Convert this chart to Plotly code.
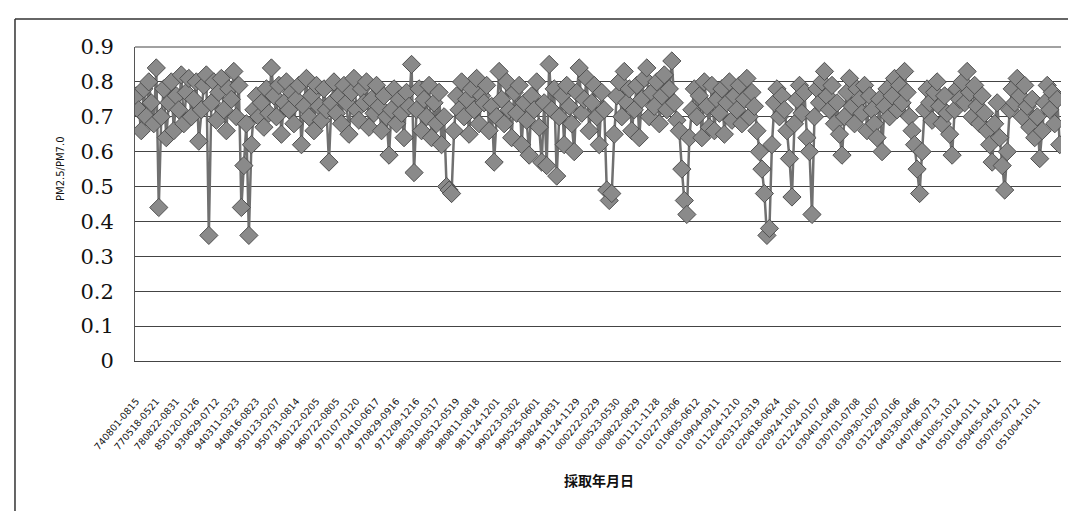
import plotly.graph_objects as go

tick_labels = [
    "740801-0815", "770518-0521", "780822-0831", "850120-0126", "930629-0712",
    "940311-0323", "940816-0823", "950123-0207", "950731-0814", "960122-0205",
    "960722-0805", "970107-0120", "970410-0617", "970829-0916", "971209-1216",
    "980310-0317", "980512-0519", "980811-0818", "981124-1201", "990223-0302",
    "990525-0601", "990824-0831", "991124-1129", "000222-0229", "000523-0530",
    "000822-0829", "001121-1128", "010227-0306", "010605-0612", "010904-0911",
    "011204-1210", "020312-0319", "020618-0624", "020924-1001", "021224-0107",
    "030401-0408", "030701-0708", "030930-1007", "031229-0106", "040330-0406",
    "040706-0713", "041005-1012", "050104-0111", "050405-0412", "050705-0712",
    "051004-1011",
]
label_every = 8

ratio = [
    0.76, 0.72, 0.66, 0.78, 0.70, 0.80, 0.74, 0.68, 0.84, 0.44,
    0.70, 0.78, 0.64, 0.74, 0.80, 0.66, 0.76, 0.72, 0.82, 0.68,
    0.77, 0.81, 0.70, 0.75, 0.80, 0.63, 0.72, 0.79, 0.82, 0.36,
    0.74, 0.80, 0.69, 0.77, 0.81, 0.72, 0.66, 0.78, 0.75, 0.83,
    0.70, 0.79, 0.44, 0.56, 0.68, 0.36, 0.62, 0.72, 0.76, 0.70,
    0.74, 0.67, 0.78, 0.71, 0.84, 0.76, 0.70, 0.79, 0.65, 0.74,
    0.80, 0.72, 0.77, 0.68, 0.75, 0.79, 0.62, 0.73, 0.81, 0.70,
    0.76, 0.66, 0.79, 0.73, 0.69, 0.78, 0.72, 0.57, 0.74, 0.80,
    0.71, 0.76, 0.68, 0.79, 0.74, 0.65, 0.77, 0.81, 0.72, 0.69,
    0.78, 0.74, 0.80, 0.67, 0.75, 0.71, 0.79, 0.73, 0.66, 0.76,
    0.70, 0.59, 0.72, 0.78, 0.68, 0.75, 0.71, 0.64, 0.77, 0.73,
    0.85, 0.54, 0.72, 0.78, 0.66, 0.75, 0.70, 0.79, 0.64, 0.74,
    0.68, 0.77, 0.62, 0.70, 0.50, 0.49, 0.48, 0.66, 0.76, 0.72,
    0.80, 0.70, 0.75, 0.65, 0.78, 0.72, 0.81, 0.68, 0.76, 0.74,
    0.79, 0.66, 0.73, 0.57, 0.70, 0.83, 0.75, 0.68, 0.80, 0.72,
    0.64, 0.77, 0.71, 0.79, 0.62, 0.74, 0.69, 0.59, 0.76, 0.72,
    0.80, 0.67, 0.57, 0.74, 0.56, 0.85, 0.72, 0.78, 0.53, 0.70,
    0.76, 0.62, 0.79, 0.73, 0.68, 0.60, 0.77, 0.84, 0.71, 0.75,
    0.81, 0.66, 0.74, 0.79, 0.70, 0.62, 0.77, 0.72, 0.49, 0.46,
    0.48, 0.65, 0.76, 0.80, 0.70, 0.83, 0.74, 0.78, 0.66, 0.72,
    0.79, 0.64, 0.75, 0.81, 0.84, 0.70, 0.77, 0.73, 0.80, 0.68,
    0.76, 0.82, 0.72, 0.78, 0.86, 0.74, 0.69, 0.66, 0.55, 0.46,
    0.42, 0.64, 0.72, 0.78, 0.70, 0.76, 0.64, 0.80, 0.73, 0.67,
    0.79, 0.66, 0.75, 0.71, 0.78, 0.65, 0.74, 0.80, 0.69, 0.76,
    0.72, 0.79, 0.68, 0.75, 0.81, 0.70, 0.77, 0.73, 0.66, 0.60,
    0.55, 0.48, 0.36, 0.38, 0.62, 0.74, 0.78, 0.70, 0.76, 0.72,
    0.66, 0.58, 0.47, 0.68, 0.75, 0.79, 0.71, 0.77, 0.64, 0.60,
    0.42, 0.70, 0.78, 0.74, 0.80, 0.83, 0.76, 0.72, 0.79, 0.68,
    0.74, 0.65, 0.59, 0.70, 0.77, 0.81, 0.73, 0.68, 0.78, 0.75,
    0.71, 0.79, 0.66, 0.76, 0.72, 0.68, 0.64, 0.75, 0.60, 0.73,
    0.78, 0.70, 0.76, 0.81, 0.72, 0.79, 0.74, 0.83, 0.77, 0.70,
    0.66, 0.62, 0.55, 0.48, 0.60, 0.72, 0.78, 0.74, 0.69, 0.77,
    0.80, 0.73, 0.68, 0.76, 0.71, 0.65, 0.59, 0.72, 0.78, 0.75,
    0.80, 0.74, 0.83, 0.77, 0.70, 0.79, 0.73, 0.68, 0.76, 0.71,
    0.66, 0.62, 0.57, 0.68, 0.74, 0.64, 0.56, 0.49, 0.60, 0.72,
    0.78, 0.74, 0.81, 0.76, 0.70, 0.79, 0.73, 0.67, 0.75, 0.64,
    0.70, 0.58, 0.66, 0.74, 0.79, 0.72, 0.77, 0.68, 0.75, 0.62,
]

y_ticks = [0, 0.1, 0.2, 0.3, 0.4, 0.5, 0.6, 0.7, 0.8, 0.9]
y_tick_text = ["0", "0.1", "0.2", "0.3", "0.4", "0.5", "0.6", "0.7", "0.8", "0.9"]

x_idx = list(range(len(ratio)))
tick_pos = [i * label_every for i in range(len(tick_labels))]

fig = go.Figure()
fig.add_trace(go.Scatter(
    x=x_idx, y=ratio, mode="lines+markers",
    line=dict(color="#707070", width=2.5),
    marker=dict(symbol="diamond", size=14, color="#8a8a8a",
                line=dict(color="#505050", width=1)),
    showlegend=False, hoverinfo="y",
))

fig.update_layout(
    width=1076, height=511,
    margin=dict(l=127, r=23, t=39, b=158),
    paper_bgcolor="white", plot_bgcolor="white",
    xaxis=dict(
        range=[-0.5, len(ratio) - 0.5],
        tickmode="array", tickvals=tick_pos, ticktext=tick_labels,
        tickangle=-50, ticklabelstandoff=30,
        tickfont=dict(family="DejaVu Sans", size=9.5, color="#111"),
        showgrid=False, zeroline=False,
        showline=True, linecolor="#444", linewidth=1,
        ticks="",
    ),
    yaxis=dict(
        range=[0, 0.9], tickmode="array", tickvals=y_ticks, ticktext=y_tick_text,
        tickfont=dict(family="DejaVu Serif", size=21, color="#111"),
        ticklabelstandoff=16,
        showgrid=True, gridcolor="#444", gridwidth=1,
        zeroline=False, showline=True, linecolor="#555", linewidth=1,
        mirror=False, ticks="",
    ),
    shapes=[
        dict(type="line", xref="paper", yref="paper", x0=0, x1=1, y0=1, y1=1,
             line=dict(color="#444", width=1)),
        dict(type="line", xref="paper", yref="paper", x0=-0.1296, x1=1.03,
             y0=1.089, y1=1.089, line=dict(color="#333", width=1.5)),
        dict(type="line", xref="paper", yref="paper", x0=-0.1296, x1=-0.1296,
             y0=1.089, y1=-0.52, line=dict(color="#333", width=1.5)),
    ],
    annotations=[
        dict(text="PM2.5/PM7.0", xref="paper", yref="paper",
             x=(52 - 127) / 926, y=(353 - 161) / 314, textangle=-90,
             showarrow=False, font=dict(family="DejaVu Sans", size=10, color="#111"),
             xanchor="center", yanchor="middle"),
        dict(text="<b>採取年月日</b>", xref="paper", yref="paper",
             x=(591 - 127) / 926, y=(353 - 472) / 314,
             showarrow=False, font=dict(family="Noto Sans CJK JP", size=14, color="#111"),
             xanchor="center", yanchor="middle"),
    ],
)

fig.write_html("out.html")
